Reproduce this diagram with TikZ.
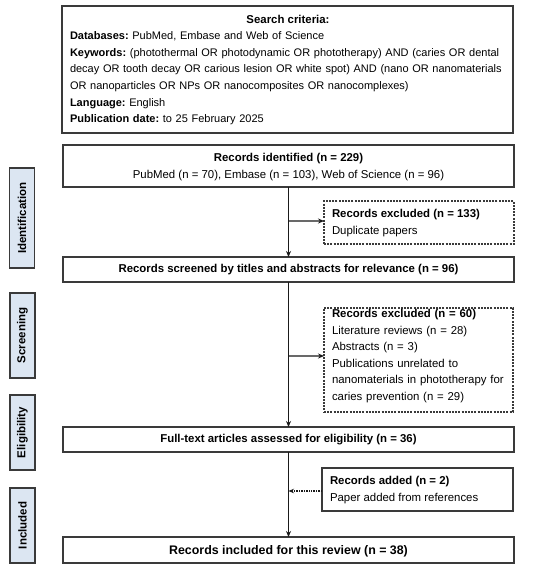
\documentclass[tikz,border=0pt]{standalone}
\usepackage{fontspec}
\setmainfont{Liberation Sans}
\usetikzlibrary{arrows.meta}
\definecolor{boxline}{HTML}{3A3A3A}
\definecolor{stagefill}{HTML}{DCE6F2}
\definecolor{arrowc}{HTML}{1A1A1A}
\frenchspacing
\begin{document}
\begin{tikzpicture}[x=1bp,y=-1bp,
  every node/.style={inner sep=0pt, outer sep=0pt},
  txt/.style={font=\fontsize{11.4bp}{16.6bp}\selectfont},
  stxt/.style={font=\fontsize{11.0bp}{16.6bp}\selectfont},
  box/.style={draw=boxline, line width=1.1bp, fill=white},
  dbox/.style={draw=boxline, line width=1.1bp, dash pattern=on 2bp off 1.2bp, fill=white},
  stage/.style={draw=boxline, line width=1.1bp, fill=stagefill, rotate=90, font=\fontsize{11.5bp}{14bp}\selectfont\bfseries},
  arr/.style={draw=arrowc, line width=1.3bp, -{Stealth[length=6bp,width=5bp]}},
  darr/.style={draw=arrowc, line width=1.1bp, dash pattern=on 1bp off 0.7bp, -{Stealth[length=5.5bp,width=4.5bp]}}
]
\useasboundingbox (0,0) rectangle (550,569);
\fill[white] (0,0) rectangle (550,569);

% search criteria
\node[box, minimum width=451bp, minimum height=127bp] (search) at (287.5,69.5) {};
\node[txt, anchor=base] (stitle) at (288,23.5) {\bfseries Search criteria:};
\node[stxt, anchor=north west, text width=480bp, align=left] (sbody) at (70,31.8) {%
\textbf{Databases:} PubMed, Embase and Web of Science\\
\textbf{Keywords:} (photothermal OR photodynamic OR phototherapy) AND (caries OR dental\\
decay OR tooth decay OR carious lesion OR white spot) AND (nano OR nanomaterials\\
OR nanoparticles OR NPs OR nanocomposites OR nanocomplexes)\\
\textbf{Language:} English\\
\textbf{Publication date:} to 25 February 2025};

% stages
\node[stage, minimum width=100bp, minimum height=25bp] (sid) at (22,218) {Identification};
\node[stage, minimum width=85bp, minimum height=25bp] (ssc) at (22.5,335.5) {Screening};
\node[stage, minimum width=75bp, minimum height=25bp] (sel) at (22.5,432.5) {Eligibility};
\node[stage, minimum width=75bp, minimum height=25bp] (sin) at (22.5,525.5) {Included};

% main boxes
\node[box, minimum width=451bp, minimum height=42bp] (ident) at (288.5,166) {};
\node[txt, align=center] (identt) at (288.5,167) {\textbf{Records identified (n = 229)}\\PubMed (n = 70), Embase (n = 103), Web of Science (n = 96)};

\node[dbox, minimum width=190bp, minimum height=43bp] (excla) at (419,222.5) {};
\node[txt, anchor=west, align=left] (exclat) at (332,223) {\textbf{Records excluded (n = 133)}\\Duplicate papers};

\node[box, minimum width=451bp, minimum height=25bp] (screen) at (288.5,269.5) {};
\node[txt] (screent) at (288.5,270) {\bfseries Records screened by titles and abstracts for relevance (n = 96)};

\node[dbox, minimum width=189bp, minimum height=104bp] (exclb) at (418.5,360) {};
\node[txt, anchor=west, text width=173bp, align=left] (exclbt) at (332,356) {%
\textbf{Records excluded (n = 60)}\\
Literature reviews (n = 28)\\
Abstracts (n = 3)\\
\makebox[\linewidth][s]{Publications unrelated to}\\
\makebox[\linewidth][s]{nanomaterials in phototherapy for}\\
caries prevention (n = 29)};

\node[box, minimum width=451bp, minimum height=25bp] (full) at (288.5,439.5) {};
\node[txt] (fullt) at (288.5,440) {\bfseries Full-text articles assessed for eligibility (n = 36)};

\node[box, minimum width=191bp, minimum height=43bp] (added) at (417.5,489.5) {};
\node[txt, anchor=west, align=left] (addedt) at (330,490) {\textbf{Records added (n = 2)}\\Paper added from references};

\node[box, minimum width=451bp, minimum height=26bp] (incl) at (288.5,550) {};
\node[txt, font=\fontsize{12.4bp}{16bp}\selectfont] (inclt) at (288.5,551) {\bfseries Records included for this review (n = 38)};

% connectors
\draw[arr] (ident.south) -- (screen.north);
\draw[arr] (ident.south |- excla.west) ++(0,-1.5) -- ([yshift=1.5bp]excla.west);
\draw[arr] (screen.south) -- (full.north);
\draw[arr] (screen.south |- exclb.west) ++(0,-4) -- ([yshift=4bp]exclb.west);
\draw[arr] (full.south) -- (incl.north);
\draw[darr] ([yshift=-1.5bp]added.west) -- ([yshift=-1.5bp]full.south |- added.west);
\end{tikzpicture}
\end{document}
